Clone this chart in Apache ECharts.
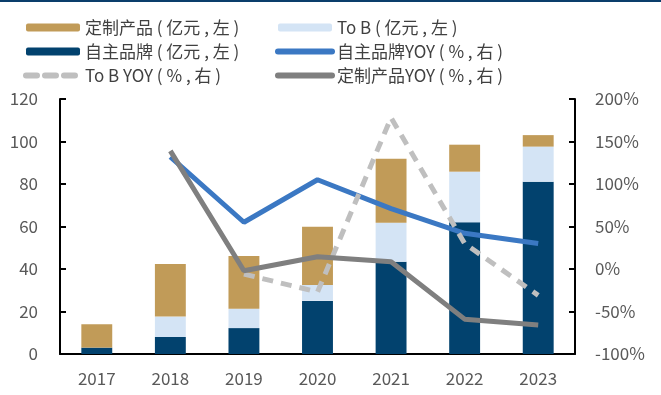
<!DOCTYPE html>
<html><head><meta charset="utf-8">
<script src="https://cdn.jsdelivr.net/npm/echarts@6/dist/echarts.min.js"></script>
<style>html,body{margin:0;padding:0;background:#fff}#c{width:661px;height:395px}</style>
</head><body><div id="c"></div>
<script>
var years = ['2017','2018','2019','2020','2021','2022','2023'];
var ownBrand = [3, 8, 12.2, 25, 43.4, 62, 81.1];
var toB = [0, 9.6, 9.1, 7.5, 18.4, 23.8, 16.5];
var custom = [11, 24.8, 24.8, 27.4, 30.1, 12.7, 5.4];
var ownBrandYoy = [null, 132, 55, 105, 71, 42, 30];
var toBYoy = [null, null, -6, -27, 178, 30, -31];
var customYoy = [null, 139, -2, 14.5, 8.6, -59, -66];

var names = ['定制产品 ( 亿元 , 左 )','To B ( 亿元 , 左 )','自主品牌 ( 亿元 , 左 )','自主品牌YOY ( % , 右 )','To B YOY ( % , 右 )','定制产品YOY ( % , 右 )'];
var font = '"Noto Sans CJK SC", "Noto Sans", sans-serif';
var chart = echarts.init(document.getElementById('c'));
function lineItem(n) { return {name: n, itemStyle: {opacity: 0}, lineStyle: {width: 6, cap: 'round'}}; }
var legendCommon = {
  orient: 'vertical', top: 14, itemWidth: 54, itemHeight: 8, itemGap: 7,
  textStyle: {fontSize: 17, color: '#404040', fontFamily: font}
};
chart.setOption({
  animation: false,
  textStyle: {fontFamily: font},
  graphic: [{type: 'rect', shape: {x: 0, y: 0, width: 661, height: 2}, style: {fill: '#0a3d6b'}}],
  legend: [
    Object.assign({left: 18, data: [names[0], names[2], lineItem(names[4])]}, legendCommon),
    Object.assign({left: 270, data: [names[1], lineItem(names[3]), lineItem(names[5])]}, legendCommon)
  ],
  grid: {left: 60, right: 86, top: 99, bottom: 41},
  xAxis: {
    type: 'category', data: years,
    axisLine: {lineStyle: {color: '#000', width: 2}},
    axisTick: {inside: true, length: 5, lineStyle: {color: '#000', width: 2}},
    axisLabel: {fontSize: 17, color: '#595959', margin: 16}
  },
  yAxis: [{
    type: 'value', min: 0, max: 120, interval: 20, splitLine: {show: false},
    axisLine: {show: true, lineStyle: {color: '#000', width: 2}},
    axisTick: {show: true, inside: true, length: 6, lineStyle: {color: '#000', width: 2}},
    axisLabel: {fontSize: 17, color: '#595959', margin: 22}
  }, {
    type: 'value', min: -100, max: 200, interval: 50, splitLine: {show: false},
    axisLine: {show: true, lineStyle: {color: '#000', width: 2}},
    axisTick: {show: true, inside: true, length: 6, lineStyle: {color: '#000', width: 2}},
    axisLabel: {fontSize: 17, color: '#595959', margin: 20, formatter: '{value}%'}
  }],
  series: [
    {name: names[2], type: 'bar', stack: 's', data: ownBrand, barWidth: '42%', itemStyle: {color: '#02426e'}},
    {name: names[1], type: 'bar', stack: 's', data: toB, itemStyle: {color: '#d4e4f5'}},
    {name: names[0], type: 'bar', stack: 's', data: custom, itemStyle: {color: '#c19b58'}},
    {name: names[3], type: 'line', yAxisIndex: 1, data: ownBrandYoy, symbol: 'none', lineStyle: {color: '#3b78c3', width: 5}, itemStyle: {color: '#3b78c3'}},
    {name: names[4], type: 'line', yAxisIndex: 1, data: toBYoy, symbol: 'none', lineStyle: {color: '#bfbfbf', width: 5, type: [11, 8]}, itemStyle: {color: '#bfbfbf'}},
    {name: names[5], type: 'line', yAxisIndex: 1, data: customYoy, symbol: 'none', lineStyle: {color: '#7f7f7f', width: 5}, itemStyle: {color: '#7f7f7f'}}
  ]
});
</script></body></html>
